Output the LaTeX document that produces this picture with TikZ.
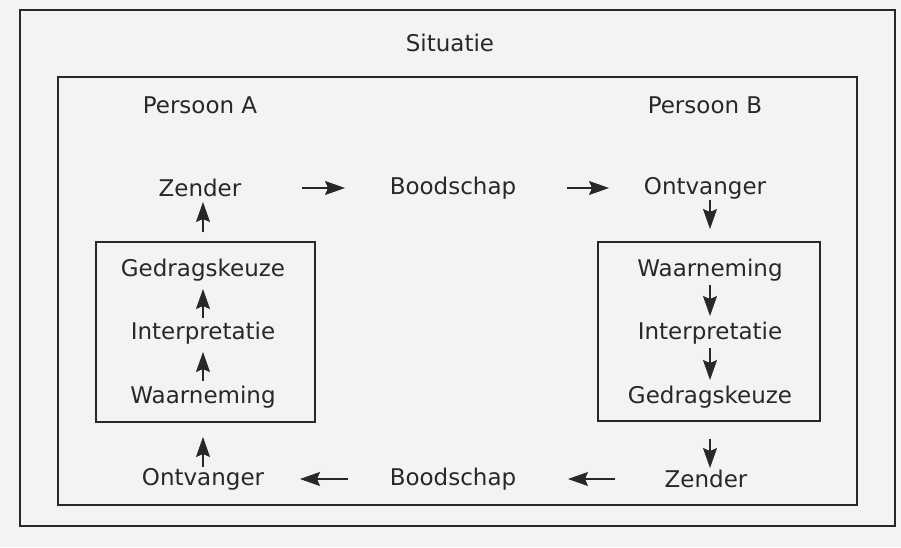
\documentclass[tikz,border=0pt]{standalone}
\usepackage{fontspec}
\setmainfont{DejaVu Sans}
\usetikzlibrary{arrows.meta}
\definecolor{bg}{RGB}{243,243,243}
\definecolor{ink}{RGB}{40,40,40}
\tikzset{
  lbl/.style={font=\fontsize{23}{27}\selectfont, text=ink, inner sep=1pt},
  frame/.style={draw=ink, line width=1.6pt},
  innerframe/.style={draw=ink, line width=1.2pt},
  flow/.style={draw=ink, line width=1.1pt, -{Stealth[length=20pt,width=14pt,inset=3pt]}}
}
\begin{document}
\begin{tikzpicture}[x=1pt,y=-1pt]
\fill[bg] (0,0) rectangle (901,547);
\useasboundingbox (0,0) rectangle (901,547);
% frames
\draw[frame] (20,10) rectangle (895,526);
\draw[frame] (58,77) rectangle (857,505);
\draw[innerframe] (96,242) rectangle (315,422);
\draw[innerframe] (598,242) rectangle (820,421);
% labels
\node[lbl] (sit) at (450,43) {Situatie};
\node[lbl] (pa) at (200,105) {Persoon A};
\node[lbl] (pb) at (705,105) {Persoon B};
% top row
\node[lbl] (za) at (200,188) {Zender};
\node[lbl] (bt) at (453,188) {Boodschap};
\node[lbl] (ob) at (705,188) {Ontvanger};
% left box
\node[lbl] (ga) at (203,270) {Gedragskeuze};
\node[lbl] (ia) at (203,333) {Interpretatie};
\node[lbl] (wa) at (203,397) {Waarneming};
% right box
\node[lbl] (wb) at (710,270) {Waarneming};
\node[lbl] (ib) at (710,333) {Interpretatie};
\node[lbl] (gb) at (710,397) {Gedragskeuze};
% bottom row
\node[lbl] (oa) at (203,479) {Ontvanger};
\node[lbl] (bb) at (453,479) {Boodschap};
\node[lbl] (zb) at (706,479) {Zender};
% helper coordinates
\coordinate (a1s) at (302,188); \coordinate (a1e) at (345,188);
\coordinate (a2s) at (567,188); \coordinate (a2e) at (609,188);
\coordinate (a3s) at (710,200); \coordinate (a3e) at (710,229);
\coordinate (a4s) at (710,285); \coordinate (a4e) at (710,316);
\coordinate (a5s) at (710,348); \coordinate (a5e) at (710,380);
\coordinate (a6s) at (710,439); \coordinate (a6e) at (710,468);
\coordinate (a7s) at (615,479); \coordinate (a7e) at (568,479);
\coordinate (a8s) at (348,479); \coordinate (a8e) at (300,479);
\coordinate (a9s) at (203,467); \coordinate (a9e) at (203,437);
\coordinate (a10s) at (203,381); \coordinate (a10e) at (203,352);
\coordinate (a11s) at (203,318); \coordinate (a11e) at (203,289);
\coordinate (a12s) at (203,232); \coordinate (a12e) at (203,202);
\draw[flow] (a1s) -- (a1e);
\draw[flow] (a2s) -- (a2e);
\draw[flow] (a3s) -- (a3e);
\draw[flow] (a4s) -- (a4e);
\draw[flow] (a5s) -- (a5e);
\draw[flow] (a6s) -- (a6e);
\draw[flow] (a7s) -- (a7e);
\draw[flow] (a8s) -- (a8e);
\draw[flow] (a9s) -- (a9e);
\draw[flow] (a10s) -- (a10e);
\draw[flow] (a11s) -- (a11e);
\draw[flow] (a12s) -- (a12e);
\end{tikzpicture}
\end{document}
